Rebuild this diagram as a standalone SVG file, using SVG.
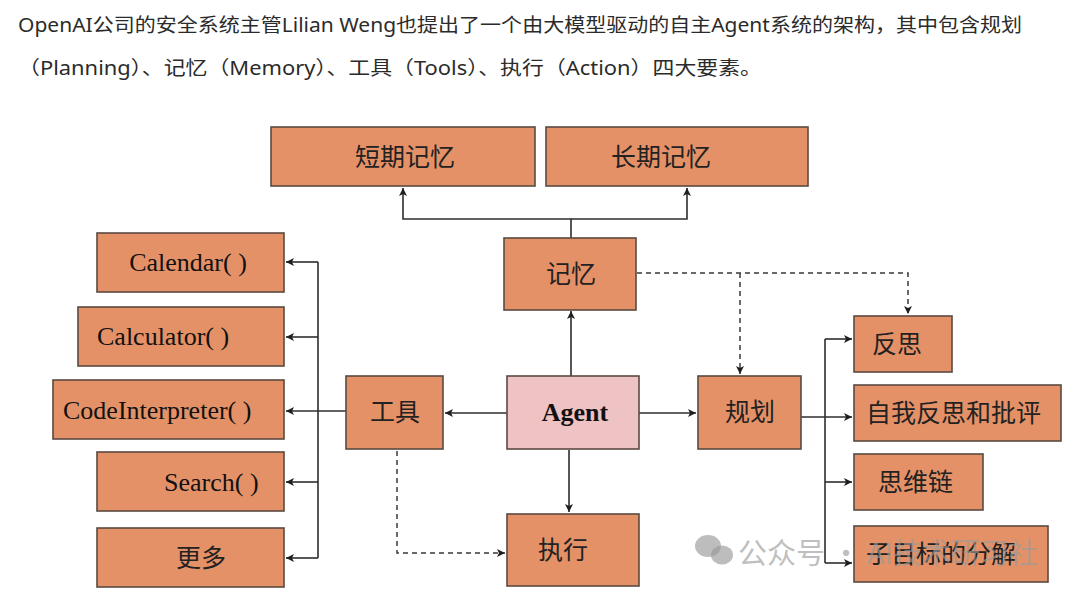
<svg xmlns="http://www.w3.org/2000/svg" width="1080" height="596" viewBox="0 0 1080 596">
<defs>
<style>
.hdr{font-family:"Noto Sans","Noto Sans CJK SC",sans-serif;font-size:19px;fill:#2b2b2b}
.box{fill:#E59167;stroke:#5a4a42;stroke-width:1.6}
.agent{fill:#EFC2C4;stroke:#5a4a42;stroke-width:1.6}
.cjk{font-family:"Noto Sans CJK SC",sans-serif;font-size:25px;fill:#222}
.lat{font-family:"Liberation Serif",serif;font-size:26px;fill:#111}
.ln{fill:none;stroke:#2e2e2e;stroke-width:1.6}
.dash{fill:none;stroke:#3a3a3a;stroke-width:1.5;stroke-dasharray:5 4}
.wm{font-family:"Noto Sans CJK SC",sans-serif;font-size:29px;fill:#9a9a9a;fill-opacity:0.65}
</style>
<marker id="ah" viewBox="0 0 10 10" refX="10" refY="5" markerWidth="8" markerHeight="8" markerUnits="userSpaceOnUse" orient="auto">
<path d="M0,0 L10,5 L0,10 L2.5,5 Z" fill="#1e1e1e"/>
</marker>
</defs>
<rect width="1080" height="596" fill="#ffffff"/>
<text class="hdr" x="18" y="32" textLength="1004" lengthAdjust="spacingAndGlyphs">OpenAI公司的安全系统主管Lilian Weng也提出了一个由大模型驱动的自主Agent系统的架构，其中包含规划</text>
<text class="hdr" x="18" y="75" textLength="744" lengthAdjust="spacingAndGlyphs">（Planning）、记忆（Memory）、工具（Tools）、执行（Action）四大要素。</text>

<g id="connectors">
<path class="ln" d="M571,238 V219 H403 V188" marker-end="url(#ah)"/>
<path class="ln" d="M571,219 H687 V188" marker-end="url(#ah)"/>
<path class="ln" d="M571,376 V311" marker-end="url(#ah)"/>
<path class="ln" d="M507,413 H445" marker-end="url(#ah)"/>
<path class="ln" d="M639,413 H696" marker-end="url(#ah)"/>
<path class="ln" d="M569,450 V512" marker-end="url(#ah)"/>
<path class="ln" d="M346,411 H286" marker-end="url(#ah)"/>
<path class="ln" d="M318,262 V558"/>
<path class="ln" d="M318,262 H286" marker-end="url(#ah)"/>
<path class="ln" d="M318,337 H286" marker-end="url(#ah)"/>
<path class="ln" d="M318,482 H286" marker-end="url(#ah)"/>
<path class="ln" d="M318,558 H286" marker-end="url(#ah)"/>
<path class="ln" d="M801,417 H852" marker-end="url(#ah)"/>
<path class="ln" d="M825,339 V563"/>
<path class="ln" d="M825,339 H852" marker-end="url(#ah)"/>
<path class="ln" d="M825,482 H852" marker-end="url(#ah)"/>
<path class="ln" d="M825,563 H852" marker-end="url(#ah)"/>
<path class="dash" d="M637,273 H908 V314" marker-end="url(#ah)"/>
<path class="dash" d="M740,273 V374" marker-end="url(#ah)"/>
<path class="dash" d="M397,451 V553 H505" marker-end="url(#ah)"/>
</g>

<g id="n-short"><rect class="box" x="271" y="127" width="264" height="59"/><text class="cjk" x="405" y="166" text-anchor="middle">短期记忆</text></g>
<g id="n-long"><rect class="box" x="546" y="127" width="262" height="59"/><text class="cjk" x="661" y="166" text-anchor="middle">长期记忆</text></g>
<g id="n-memory"><rect class="box" x="504" y="238" width="132" height="72"/><text class="cjk" x="571" y="283" text-anchor="middle">记忆</text></g>
<g id="n-calendar"><rect class="box" x="97" y="233" width="187" height="59"/><text class="lat" x="188" y="271" text-anchor="middle">Calendar( )</text></g>
<g id="n-calculator"><rect class="box" x="78" y="307" width="206" height="59"/><text class="lat" x="97" y="345">Calculator( )</text></g>
<g id="n-code"><rect class="box" x="53" y="380" width="231" height="59"/><text class="lat" x="63" y="419">CodeInterpreter( )</text></g>
<g id="n-search"><rect class="box" x="97" y="452" width="187" height="59"/><text class="lat" x="164" y="491">Search( )</text></g>
<g id="n-more"><rect class="box" x="97" y="528" width="187" height="59"/><text class="cjk" x="176" y="567">更多</text></g>
<g id="n-tools"><rect class="box" x="346" y="376" width="97" height="73"/><text class="cjk" x="395" y="421" text-anchor="middle">工具</text></g>
<g id="n-agent"><rect class="agent" x="507" y="376" width="132" height="73"/><text x="575" y="421" text-anchor="middle" font-family="Liberation Serif,serif" font-weight="bold" font-size="26" fill="#111">Agent</text></g>
<g id="n-plan"><rect class="box" x="698" y="376" width="103" height="73"/><text class="cjk" x="750" y="421" text-anchor="middle">规划</text></g>
<g id="n-action"><rect class="box" x="507" y="514" width="132" height="72"/><text class="cjk" x="538" y="559">执行</text></g>
<g id="n-reflect"><rect class="box" x="854" y="316" width="98" height="56"/><text class="cjk" x="872" y="353">反思</text></g>
<g id="n-selfcrit"><rect class="box" x="854" y="385" width="207" height="56"/><text class="cjk" x="866" y="422">自我反思和批评</text></g>
<g id="n-cot"><rect class="box" x="854" y="454" width="129" height="56"/><text class="cjk" x="878" y="491">思维链</text></g>
<g id="n-subgoal"><rect class="box" x="854" y="526" width="194" height="56"/><text class="cjk" x="866" y="563">子目标的分解</text></g>

<g id="watermark" fill="#9a9a9a" fill-opacity="0.65">
<ellipse cx="708" cy="546" rx="13" ry="11"/>
<ellipse cx="722" cy="555" rx="11" ry="9.5"/>
<text class="wm" x="738" y="564">公众号 · AI技术研习社</text>
</g>
</svg>
